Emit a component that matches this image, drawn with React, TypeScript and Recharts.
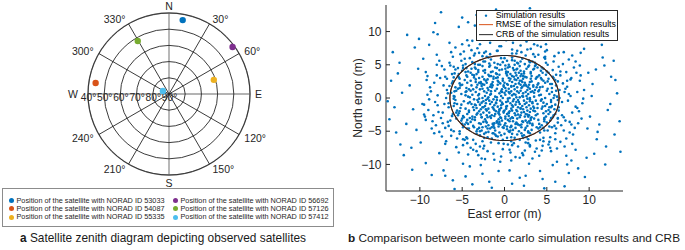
import React from 'react';
import {
  RadarChart, Radar, PolarGrid, PolarAngleAxis, PolarRadiusAxis, Legend,
  ScatterChart, Scatter, XAxis, YAxis,
} from 'recharts';

const FONT = '"Liberation Sans", Arial, Helvetica, sans-serif';
const INK = '#262626';

// ---------- Panel a: satellite sky plot ----------
const SAT_IDS = ['53033', '54087', '55335', '56692', '57126', '57412'];
const SAT_AZIMUTH = [10.5, 278.5, 72.5, 53.5, 329.5, 296];
const SAT_ELEVATION = [43.6, 44.2, 61, 41.2, 52, 85.8];
const SAT_COLORS = ['#0072BD', '#D95319', '#EDB120', '#7E2F8E', '#77AC30', '#4DBEEE'];

const AZ_TICKS = [0, 30, 60, 90, 120, 150, 180, 210, 240, 270, 300, 330];
const AZ_CARDINAL: Record<number, string> = { 0: 'N', 90: 'E', 180: 'S', 270: 'W' };
const ELEV_TICKS = [40, 50, 60, 70, 80, 90];

// ---------- Panel b: Monte Carlo simulation (east, north pairs in m) ----------
const SIM_EAST_NORTH: number[] = [
  0.3,-1.2, -2.1,0.8, 1.7,2.2, -0.6,-2.5, 2.4,-0.9, -1.4,1.9, 0.9,0.4, -2.7,-0.7, 1.2,-2.3, -0.2,2.6,
  2.8,0.6, -1.9,-1.6, 0.5,1.4, -0.9,-0.3, 1.9,1.1, -2.4,2.0, 0.1,-2.8, 2.2,-1.7, -1.1,0.2, 0.7,2.9,
  -3.1,0.4, 3.0,-0.2, -0.4,-1.5, 1.4,0.1, -1.7,-2.8, 2.6,1.8, -0.8,3.1, 0.2,-0.6, -2.9,1.3, 1.0,-3.0,
  3.3,1.0, -1.2,-1.1, 0.6,-2.0, -2.2,2.6, 2.0,2.6, -0.3,0.9, 1.6,-1.4, -3.3,-1.5, 0.8,1.8, -1.6,0.6,
  2.5,-2.4, -0.7,-3.2, 1.1,3.2, -2.5,-2.2, 3.4,-1.3, -0.1,1.7, 2.1,0.3, -1.3,2.9, 0.4,-3.3, -2.0,-0.1,
  1.5,1.6, -3.0,2.3, 0.0,-1.9, 2.9,2.0, -1.5,-0.6, 0.7,-0.8, -0.5,2.2, 1.8,-2.9, -2.6,0.0, 3.1,0.9,
  -1.0,-2.0, 0.9,2.4, -2.3,-1.2, 2.3,-0.4, -0.4,0.3, 1.3,-1.0, -1.8,3.3, 0.2,1.1, 2.7,-1.9, -3.4,0.9,
  0.6,0.0, -0.9,1.4, 1.9,-2.6, -2.1,-2.6, 3.2,2.5, -1.2,-1.8, 0.3,3.4, 2.0,1.5, -0.2,-0.9, -2.8,2.4,
  1.4,2.7, -1.6,-3.0, 2.6,-0.7, -0.6,0.7, 0.8,-1.6, -2.4,1.0, 1.7,0.8, -1.1,-2.4, 3.5,0.2, -0.3,-3.4,
  -1.9,1.2, 0.4,2.0, 2.4,2.3, -3.2,-0.3, 1.0,-0.5, -0.8,-1.3, 1.6,3.0, -2.2,-1.7, 0.1,0.5, 2.8,-2.8,
  -0.5,-0.4, 1.2,1.3, -1.4,2.4, 2.1,-1.2, -2.7,1.8, 0.5,-2.7, -0.1,1.9, 3.0,1.4, -1.7,-0.9, 0.9,-1.9,
  1.8,0.1, -2.3,0.3, 0.2,-1.3, -1.0,3.0, 2.5,0.9, -0.7,-2.1, 1.5,-3.1, -3.0,-2.0, 0.6,2.6, -1.3,-0.2,
  2.9,-1.1, -0.4,1.0, 1.1,-0.2, -2.0,2.8, 0.3,-2.4, -1.5,1.6, 2.2,2.9, -2.9,-1.0, 1.4,-1.8, -0.8,2.0,
  0.0,0.8, 1.7,-0.6, -1.2,-2.7, 2.7,1.2, -2.5,-0.5, 0.8,1.0, -0.6,-1.7, 1.3,2.1, -3.3,1.6, 2.0,-2.2,
  -0.9,0.1, 0.4,-0.1, 1.9,2.0, -1.8,-2.2, 3.3,-0.6, -0.2,2.9, 0.7,-3.1, -2.6,2.1, 1.1,0.6, -1.4,-1.4,
  2.3,1.9, -2.2,-0.8, 0.1,1.5, 1.6,-2.5, -0.5,-2.9, 2.6,0.3, -1.1,1.1, 0.9,3.3, -2.8,-2.5, 3.1,-1.6,
  -0.3,-0.7, 1.0,-1.3, -1.7,0.5, 2.1,2.4, -2.4,2.8, 0.6,0.7, -0.7,-2.3, 1.5,1.0, -3.1,-0.6, 0.2,-1.6,
  1.3,-2.6, -1.9,0.1, 2.8,1.6, -0.8,2.6, 0.4,-0.5, -2.1,-1.9, 1.8,-0.9, -0.1,-2.2, 2.4,-2.8, -1.3,3.2,
  0.8,1.7, -2.6,-1.4, 3.0,-2.1, -0.4,-1.1, 1.2,2.8, -1.5,-2.6, 0.0,2.3, 2.7,-0.1, -2.0,1.5, 0.5,-2.2,
  -1.6,2.0, 1.9,-1.6, -0.2,0.0, 2.2,0.7, -2.7,-2.9, 0.9,-2.9, -1.0,-0.7, 1.4,3.4, -3.4,-1.1, 3.4,1.7,
  0.5,0.9, -1.0,-0.8, 1.6,-0.3, -0.3,1.3, 2.1,1.7, -1.8,-0.4, 0.9,-1.1, -2.6,1.4, 1.3,0.5, -0.6,-1.9,
  1.4,-0.6, -1.6,1.0, 0.5,-2.3, -0.7,2.4, 2.6,-1.4, -2.8,-1.7, 1.8,2.6, -2.0,-2.9, 3.1,2.9, -3.4,2.8,
  2.2,0.2, -2.2,-0.3, 0.3,2.1, -0.1,-2.0, 1.5,-2.0, -1.5,2.1, 2.3,-2.1, -2.1,2.3, 3.0,-0.5, -3.0,0.6,
  1.1,1.8, -1.3,-1.6, 1.9,-1.5, -1.7,1.7, 2.5,2.0, -2.5,-1.4, 0.1,-3.1, 3.1,-3.0, -3.2,-2.3, 2.2,3.3,
  4.1,1.2, -4.3,-0.8, 1.5,4.4, -2.0,-4.6, 5.2,-1.8, -3.6,3.4, 0.6,-5.1, 3.8,3.1, -5.5,1.4, 2.7,-4.2,
  -1.2,5.3, 4.7,-3.0, -4.9,-2.7, 0.2,4.0, 5.9,0.4, -2.8,-3.9, 3.2,-2.9, -5.8,-0.3, 1.9,5.5, -3.9,1.9,
  4.4,2.8, -0.7,-4.3, 2.3,-5.6, -4.6,3.9, 6.0,-1.0, -1.8,4.7, 4.0,-4.6, -3.3,-5.0, 0.9,6.1, -6.2,2.2,
  2.9,4.9, -5.1,0.6, 5.4,2.1, -2.4,-5.4, 0.3,-4.7, 3.5,0.8, -4.0,-3.6, 1.2,-6.0, -0.9,4.5, 5.0,-3.7,
  -3.1,5.0, 4.8,0.0, -5.6,-1.9, 2.0,3.6, -1.5,-6.1, 3.9,-1.5, -4.4,2.3, 0.5,5.0, 5.7,3.2, -2.6,-4.4,
  1.6,-4.0, -3.7,-1.4, 4.3,4.1, -0.4,-5.6, 6.1,1.9, -5.0,4.1, 2.5,-3.4, -3.0,3.0, 0.1,-3.8, 3.6,5.3,
  -4.7,-4.0, 5.5,-0.6, -1.0,3.7, 2.8,-5.0, -6.0,-1.2, 3.0,2.4, -2.2,-3.5, 4.6,-2.3, -3.5,4.6, 1.1,4.2,
  -5.3,2.9, 0.7,-4.4, 4.9,3.5, -1.6,5.8, 3.3,-3.9, -4.2,-2.1, 5.8,-2.6, -0.2,-6.3, 2.1,5.9, -5.9,0.2,
  3.7,-0.4, -2.9,-5.6, 1.8,4.8, -4.5,1.0, 5.1,1.4, -0.6,-3.6, 4.2,-5.2, -3.8,5.4, 0.4,3.9, 6.3,-0.3,
  -2.5,4.1, 2.4,-4.8, -5.7,-3.1, 3.1,3.9, -1.1,-4.9, 5.3,-4.3, -4.1,0.1, 1.4,-3.7, -2.1,6.2, 4.5,1.7,
  0.0,-5.4, -3.4,2.4, 5.6,0.9, -1.4,-3.9, 2.6,4.4, -6.1,-2.4, 3.4,-1.9, -0.8,5.1, 4.0,-3.3, -4.8,-0.5,
  1.7,3.8, -3.2,-4.7, 4.6,2.6, -5.4,3.6, 0.8,-5.9, 3.9,4.6, -2.7,-2.9, 5.9,-1.7, -1.9,3.5, 2.2,-3.6,
  -4.4,-3.3, 3.0,5.4, -0.3,4.3, 5.0,-0.9, -3.7,-4.2, 1.3,-4.5, -5.2,1.9, 4.1,3.4, -1.3,-5.3, 6.0,2.7,
  -2.3,-3.2, 2.9,-2.6, -4.9,4.5, 0.6,4.7, 4.7,-4.9, -6.3,0.8, 3.6,1.2, -0.5,-4.0, 2.0,-5.3, -3.6,3.1,
  5.2,3.8, -1.7,4.9, 3.3,-4.1, -4.6,-1.6, 0.9,5.7, -2.0,-5.9, 4.4,-0.2, -5.5,-2.6, 1.9,3.3, -3.0,-3.8,
  2.4,3.2, -4.0,2.6, 4.9,-2.0, -0.1,-4.5, 3.7,5.0, -5.0,-3.9, 1.0,-3.5, -2.6,4.8, 5.6,1.5, -1.0,-5.7,
  3.5,-3.1, -3.3,-2.5, 0.3,5.6, 4.3,0.5, -5.8,1.6, 2.6,-5.9, -1.6,3.3, 5.4,-3.4, -4.3,4.0, 0.8,-4.2,
  -0.6,3.5, 3.9,2.0, -2.4,-6.0, 5.7,-2.9, -4.7,2.7, 1.6,5.2, -3.9,-0.9, 2.7,-3.7, -1.2,-3.8, 4.6,4.4,
  -5.6,-0.9, 0.5,-5.0, 3.1,3.7, -3.1,4.2, 4.8,-1.2, -2.2,-4.3, 1.5,-5.5, -4.9,-4.4, 6.2,0.2, -0.4,6.0,
  2.0,-4.4, -3.8,-2.8, 4.1,-3.9, -1.8,5.2, 3.4,4.3, -5.3,-2.0, 0.2,3.7, 5.1,2.5, -2.7,-4.9, 1.2,5.0,
  4.5,-1.3, -4.4,3.2, 1.0,-4.8, -6.0,-0.1, 2.3,4.0, -0.9,-3.5, 5.3,0.6, -3.5,5.1, 3.0,-5.3, -1.4,4.0,
  -2.9,-5.0, 3.8,1.6, -5.1,-3.4, 0.7,3.6, 5.8,3.0, -1.7,-4.6, 2.5,-4.5, -4.2,1.3, 4.2,-4.4, -0.2,5.4,
  1.3,-3.9, -3.4,4.4, 5.5,-1.4, -4.8,-2.9, 2.8,4.7, -0.6,-5.2, 3.9,-2.4, -5.9,1.0, 0.4,4.6, 4.7,-3.2,
  -1.3,-4.2, 4.3,3.0, -3.0,-4.5, 1.7,-5.0, -5.4,3.1, 3.3,-0.8, -2.5,5.5, 5.0,4.0, -4.1,-3.0, 0.0,-4.1,
  3.6,4.8, -4.6,0.4, 2.1,-3.5, -1.1,4.6, 4.9,-2.8, -3.5,-3.3, 0.9,-5.4, -2.3,3.8, 5.5,-0.3, -5.2,-1.5,
  -0.8,-5.8, 2.6,3.1, -4.0,3.8, 4.4,-4.1, -2.1,-3.7, 1.4,4.3, -5.7,-2.2, 3.2,-4.8, -3.2,2.0, 6.1,1.1,
  0.1,4.9, -4.5,-3.7, 4.0,1.0, -1.5,-4.4, 2.2,-6.0, -3.8,3.5, 5.2,-2.4, -0.7,-3.9, 3.7,2.9, -5.0,2.0,
  -2.6,3.2, 3.1,-3.3, -4.2,-4.6, 1.8,-4.1, -5.9,-0.8, 4.8,2.3, -1.9,-5.1, 2.9,5.6, -3.6,-1.8, 0.3,-4.3,
  3.6,-2.0, -3.8,0.5, 0.2,3.8, -0.9,-3.7, 4.0,2.2, -4.2,-1.9, 2.0,-4.0, -2.3,4.2, 4.6,-0.7, -4.5,1.5,
  1.0,4.5, -1.2,-4.5, 3.2,3.3, -3.5,-2.9, 2.9,-3.5, -3.3,3.6, 5.0,1.1, -5.1,-1.0, 0.7,-4.9, -0.5,5.0,
  5.4,-2.1, -5.3,2.2, 2.4,5.1, -2.2,-5.2, 4.5,3.8, -4.3,-3.9, 3.8,-4.4, -3.9,4.4, 5.8,0.0, -6.0,0.3,
  0.0,6.0, 0.3,-6.0, 6.3,2.5, -6.2,-2.7, 2.8,-6.2, -2.6,6.3, 5.1,-4.9, -4.9,4.9, 4.9,5.3, -5.3,-5.0,
  3.9,-0.9, -4.0,1.1, 1.5,-3.9, -1.6,3.9, 4.2,1.6, -4.4,-2.4, 2.3,3.7, -2.5,-3.6, 3.7,-2.6, -3.6,-0.2,
  0.6,-3.5, -0.9,3.6, 2.7,-2.5, -2.8,2.2, 4.4,-1.6, -4.6,0.9, 1.9,4.1, -1.9,-4.1, 3.4,1.9, -3.5,-1.0,
  5.6,-1.2, -5.7,1.1, 1.2,5.6, -1.1,-5.5, 4.7,-3.5, -4.5,3.4, 3.5,4.4, -3.6,-4.4, 6.4,-1.4, -6.5,1.8,
  0.8,-6.5, -1.7,6.6, 6.6,3.4, -6.7,-3.6, 3.7,-6.4, -3.5,6.7, 5.9,-4.2, -5.8,4.3, 4.8,5.9, -4.4,-6.1,
  0.5,3.0, -0.4,-3.0, 3.9,3.2, -3.8,-3.2, 3.0,-3.8, -3.1,3.9, 4.3,-0.4, -4.3,0.2, 0.1,4.4, -0.2,-4.4,
  5.2,2.9, -5.0,-3.1, 2.8,-5.2, -2.9,5.0, 5.5,-3.0, -5.5,3.3, 3.3,5.5, -3.3,-5.4, 6.0,-2.4, -6.1,2.5,
  1.8,-6.3, -1.9,6.1, 6.5,1.2, -6.6,-0.8, 0.9,6.7, -0.7,-6.8, 6.8,-0.6, -6.9,0.0, 2.5,6.4, -2.6,-6.5,
  4.1,0.4, -4.1,-0.6, 0.8,-4.3, -0.6,4.2, 3.0,0.0, -3.0,-0.1, 1.3,3.8, -1.3,-3.9, 3.5,-1.5, -3.7,1.3,
  5.6,2.1, -5.4,-2.3, 2.1,-5.7, -2.3,5.5, 5.3,-1.4, -5.3,1.5, 1.5,5.3, -1.4,-5.3, 4.4,4.6, -4.4,-4.6,
  4.6,-4.5, -4.5,4.5, 6.3,-3.7, -6.2,3.6, 3.6,6.2, -3.7,-6.3, 7.1,0.9, -7.1,-0.9, 0.9,-7.1, -0.9,7.1,
  7.4,2.6, -7.3,-2.2, 2.7,7.3, -2.4,-7.2, 7.0,-2.9, -7.0,3.2, 3.0,-7.1, -3.2,7.5, 6.4,4.7, -6.3,-4.8,
  4.6,-6.0, -4.7,5.9, 6.1,-4.6, -6.0,4.7, 4.8,6.2, -4.9,-6.2, 7.8,0.3, -7.9,0.4, 0.6,-7.8, -0.4,7.8,
  7.2,1.4, -6.8,2.9, 3.1,7.4, -2.5,-7.6, 8.0,-2.2, -7.5,-3.0, 1.0,8.3, 5.4,-5.9, -5.1,5.6, 6.6,4.0,
  -8.2,-0.6, 2.4,-7.9, -3.9,7.2, 7.7,-3.6, -6.0,-5.0, 4.7,6.1, -1.3,-8.4, 8.6,0.9, -7.1,4.3, 0.4,-7.0,
  6.0,-6.2, -4.4,-6.8, 7.9,3.0, -8.8,1.6, 2.0,6.9, -5.6,-6.1, 5.8,5.5, -0.6,7.8, 7.0,-4.9, -7.8,-2.1,
  3.6,-8.1, -6.4,4.9, 8.4,-1.3, -2.9,8.1, 5.2,-7.0, -8.5,-3.5, 1.6,-7.3, 6.9,2.2, -4.8,7.0, 0.9,7.3,
  -7.0,-4.5, 4.3,7.7, -9.1,0.5, 6.3,-3.1, -3.3,-8.0, 8.9,2.6, -5.9,3.7, 2.8,-6.8, -1.9,8.9, 7.5,-0.4,
  -6.6,-1.4, 5.1,5.0, -4.0,-7.5, 8.2,4.6, -8.0,3.4, 1.3,-8.9, 6.4,6.8, -2.2,7.0, 7.3,-6.1, -9.0,-1.8,
  2.6,8.5, -5.3,-5.4, 8.7,-3.8, -7.2,1.9, 4.6,-6.5, -3.6,6.4, 6.1,3.5, -0.2,-7.7, 7.6,5.8, -8.6,-4.6,
  0.2,8.7, -6.9,-6.5, 9.2,-0.8, -4.6,5.1, 3.8,-7.6, -7.7,5.6, 5.6,-4.4, -1.6,-6.7, 6.8,-2.6, -5.8,7.6,
  4.0,6.5, -8.3,2.3, 7.1,-7.3, -2.7,-9.1, 8.5,3.8, -6.2,-2.7, 1.9,7.9, -4.3,-8.5, 6.5,0.0, -9.3,3.9,
  5.5,-8.0, -3.0,6.8, 8.0,6.4, -7.4,-5.8, 0.7,-8.2, -5.0,8.1, 7.4,1.7, -6.1,6.2, 3.3,-9.1, -8.9,-0.2,
  6.7,-4.1, -1.0,9.3, 9.4,1.2, -7.9,-1.1, 2.2,-8.6, -4.9,-7.1, 4.9,8.1, -6.7,0.7, 8.1,-5.5, -2.0,-8.0,
  1.1,-6.8, -8.0,5.0, 7.8,2.8, -3.4,-6.9, 5.9,6.3, -9.4,-2.8, 3.0,-7.3, -5.5,4.5, 6.2,-7.6, -0.8,7.1,
  -7.3,-3.8, 4.4,-7.9, -2.4,6.8, 8.8,-2.0, -6.5,5.3, 0.5,9.0, 7.2,-3.4, -4.7,-6.3, 5.0,7.2, -8.7,1.0,
  3.9,7.9, -5.7,-7.4, 9.0,3.4, -1.2,-9.3, 6.9,5.1, -7.6,3.0, 2.5,-6.7, -3.8,8.6, 8.3,-4.5, -6.3,-5.7,
  -9.5,-1.0, 5.3,-6.6, -2.9,-7.3, 7.0,6.9, -4.2,7.9, 1.5,7.1, -7.0,-6.9, 8.6,-1.5, -0.4,-8.8, 4.1,-8.7,
  -5.2,6.6, 7.6,0.6, -8.1,-4.1, 2.9,8.9, 6.0,-5.3, -3.1,-8.6, 9.1,-3.1, -6.8,1.2, 1.8,-9.0, -2.5,9.2,
  5.7,4.2, -8.4,-2.6, 4.5,-7.2, -0.1,-6.9, 7.9,-4.0, -4.1,6.0, 3.4,6.6, -7.7,-5.1, 6.6,-6.6, -6.0,3.1,
  0.8,-9.4, -3.7,-7.8, 8.4,5.5, -9.2,2.7, 4.8,7.0, -1.7,8.3, 6.3,-3.0, -5.4,-8.2, 9.3,-0.1, -6.4,-3.4,
  2.1,-8.3, -6.3,6.9, 7.3,3.9, -4.5,-5.9, 5.4,-7.5, -8.3,-5.3, 1.4,6.7, -2.3,-9.2, 8.9,4.9, -7.4,4.8,
  6.4,-1.9, -0.5,-9.6, 3.5,8.1, -9.3,-3.3, 7.7,-5.2, -4.4,8.7, 4.2,-6.3, -6.6,-4.2, 0.0,9.4, 8.0,-6.9,
  10.4,2.1, -10.8,-1.7, 3.4,10.6, -4.1,-10.3, 11.2,-4.0, -9.6,5.9, 7.3,-8.7, -7.7,-8.3, 1.2,11.5, -12.1,0.8,
  9.0,6.8, -2.6,-11.4, 12.5,-0.9, -10.2,4.4, 5.7,-10.1, -8.9,8.0, 10.9,-6.2, -11.6,-3.9, 0.6,-10.9, 6.9,9.8,
  -5.4,10.7, 13.1,2.7, -12.8,-5.2, 4.5,-12.2, -3.3,12.5, 9.7,-9.0, -7.2,-10.9, 11.8,4.9, -9.9,-6.7, 2.3,-13.2,
  -13.4,2.6, 8.2,10.1, -1.0,13.3, 10.1,-2.8, -6.1,-12.4, 12.0,-7.3, -10.6,7.6, 5.0,11.9, -4.6,-11.8, 13.6,-3.5,
  7.6,-11.3, -11.9,-8.6, 2.9,-9.9, -8.2,11.3, 11.5,8.0, -13.0,-1.4, 6.2,-9.6, -2.1,10.2, 10.3,0.3, -9.3,-9.8,
  0.0,12.7, 12.9,5.6, -7.9,9.6, 4.2,-11.0, -10.4,-4.8, 8.7,-10.6, -3.8,-13.0, 9.4,7.4, -12.4,5.3, 1.8,-12.0,
  -6.8,-9.3, 11.0,-5.1, -1.8,-12.6, 6.5,12.4, -11.2,1.9, 13.3,0.7, -5.0,12.1, 10.6,-8.4, -8.6,-11.6, 3.0,13.5,
  -10.1,8.9, 7.1,-13.3, -13.6,-3.2, 9.9,3.8, -4.9,-9.9, 12.2,-1.8, -8.0,6.5, 2.5,-11.7, -9.7,-0.9, 5.9,10.4,
  8.4,-7.8, -12.6,3.7, 1.4,10.0, -7.0,-11.7, 11.6,6.1, -3.5,10.9, 10.0,9.3, -11.0,-7.5, 4.7,-13.6, -6.5,8.3,
  13.0,-5.5, -9.5,-2.5, 3.8,12.8, -2.8,-10.1, 9.5,-11.9, -13.2,6.9, 7.9,-9.4, -5.9,-13.7, 12.6,3.2, -8.4,9.9,
  -0.7,-11.0, 10.8,4.3, -11.5,9.5, 6.0,-12.6, -13.8,-0.5, 8.9,12.0, -4.3,11.4, 11.9,-10.0, -10.9,-10.8, 2.0,10.8,
  9.8,-4.6, -7.5,12.9, 12.3,9.4, -12.3,-7.0, 5.3,12.9, -1.5,-13.5, 13.7,-8.1, -9.1,3.3, 0.9,-12.9, 7.4,-10.0,
];

const AXIS_LIMIT = 14;
const ERROR_TICKS = [-10, -5, 0, 5, 10];
const CRB_SEMI_AXES = [6.45, 6.4]; // east, north (m)
const RMSE_SEMI_AXES = [6.45, 6.4];
const ELLIPSE_STEPS = 120;

const SIM_LABELS = ['Simulation results', 'RMSE of the simulation results', 'CRB of the simulation results'];
const SIM_COLOR = '#0072BD';
const RMSE_COLOR = '#D95319';
const CRB_COLOR = '#262626';

const CAPTION_A = ['a', ' Satellite zenith diagram depicting observed satellites'];
const CAPTION_B = ['b', ' Comparison between monte carlo simulation results and CRB'];

// ---------- derived tables ----------
const satData = SAT_IDS.map((id, i) => ({
  id, az: SAT_AZIMUTH[i], zen: 90 - SAT_ELEVATION[i], color: SAT_COLORS[i],
}));
const toPolarAngle = (az: number) => 90 - az;
const cardinalAngles = AZ_TICKS.filter((a) => a % 90 === 0).map(toPolarAngle);
const diagonalAngles = AZ_TICKS.filter((a) => a % 90 !== 0).map(toPolarAngle);
const zenithTicks = ELEV_TICKS.map((e) => 90 - e);

const simData: { x: number; y: number }[] = [];
for (let i = 0; i < SIM_EAST_NORTH.length; i += 2) {
  simData.push({ x: SIM_EAST_NORTH[i], y: SIM_EAST_NORTH[i + 1] });
}
const ellipseData = ([a, b]: number[]) =>
  Array.from({ length: ELLIPSE_STEPS + 1 }, (_, k) => {
    const t = (2 * Math.PI * k) / ELLIPSE_STEPS;
    return { x: a * Math.cos(t), y: b * Math.sin(t) };
  });
const crbData = ellipseData(CRB_SEMI_AXES);
const rmseData = ellipseData(RMSE_SEMI_AXES);

const fmtSigned = (v: number) => (v < 0 ? `\u2212${Math.abs(v)}` : `${v}`);

// ---------- pieces ----------
function AngleTick(props: any) {
  const { x, y, payload } = props;
  const az = Number(payload.value);
  const s = Math.sin((az * Math.PI) / 180);
  const anchor = Math.abs(s) < 0.01 ? 'middle' : s > 0 ? 'start' : 'end';
  const label = AZ_CARDINAL[az] ?? `${az}°`;
  const dx = az === 270 ? -4 : az === 90 ? -1 : 0;
  const dy = az === 0 ? -1.5 : az === 180 ? 1.5 : 0;
  return (
    <text x={x + dx} y={y + dy} textAnchor={anchor} dominantBaseline="central"
      fontSize={10.5} fill={INK} fontFamily={FONT}>{label}</text>
  );
}

function RadiusTick(props: any) {
  const { x, y, payload } = props;
  return (
    <text x={x + 0.5} y={y + 3} textAnchor="middle" dominantBaseline="central"
      fontSize={10.2} fill={INK} fontFamily={FONT}>{`${90 - Number(payload.value)}°`}</text>
  );
}

function SatDot(props: any) {
  const { cx, cy, index } = props;
  return <circle key={`sat-${index}`} cx={cx} cy={cy} r={3.2} fill={SAT_COLORS[index]} />;
}

function SatLegend() {
  return (
    <div style={{
      boxSizing: 'border-box', width: '100%', height: '100%', border: '1px solid #8c8c8c',
      background: '#fff', display: 'grid', gridTemplateColumns: '164px 160px',
      gridTemplateRows: 'repeat(3, 8.3px)', gridAutoFlow: 'column', padding: '7.5px 0 0 6px',
      fontSize: 7.3, lineHeight: '8.3px', fontFamily: FONT, color: INK,
    }}>
      {SAT_IDS.map((id, i) => (
        <div key={id} style={{ display: 'flex', alignItems: 'center', whiteSpace: 'nowrap' }}>
          <span style={{
            width: 5, height: 5, borderRadius: '50%', background: SAT_COLORS[i],
            marginRight: 2.5, flex: 'none',
          }} />
          {`Position of the satellite with NORAD ID ${id}`}
        </div>
      ))}
    </div>
  );
}

function SimDot(props: any) {
  const { cx, cy } = props;
  return <circle cx={cx} cy={cy} r={1.3} fill={SIM_COLOR} />;
}
const NoDot = () => <g />;

function SimLegend() {
  const sample = (i: number) => {
    if (i === 0) return <circle cx={7} cy={4.65} r={1.2} fill={SIM_COLOR} />;
    return <line x1={0} x2={14} y1={4.65} y2={4.65} stroke={i === 1 ? RMSE_COLOR : CRB_COLOR} strokeWidth={1} />;
  };
  return (
    <div style={{
      boxSizing: 'border-box', width: 142, height: 31, border: `1px solid ${INK}`, background: '#fff',
      padding: '0.6px 0 0 2px', fontSize: 8.8, lineHeight: '9.3px', fontFamily: FONT, color: '#000',
    }}>
      {SIM_LABELS.map((label, i) => (
        <div key={label} style={{ display: 'flex', alignItems: 'center', height: 9.3, whiteSpace: 'nowrap' }}>
          <svg width={16.7} height={9.3} style={{ flex: 'none' }}>{sample(i)}</svg>
          <span>{label}</span>
        </div>
      ))}
    </div>
  );
}

function Caption({ parts, x, width, size }: { parts: string[]; x: number; width: number; size: number }) {
  return (
    <text x={x} y={241.5} textLength={width} lengthAdjust="spacingAndGlyphs"
      fontSize={size} fontFamily={FONT} fill="#1a1a1a">
      <tspan fontWeight="bold">{parts[0]}</tspan>
      <tspan>{parts[1]}</tspan>
    </text>
  );
}

const tickStyle = { fontSize: 12, fill: INK, fontFamily: FONT };

export default function App() {
  return (
    <div style={{ position: 'absolute', left: 0, top: 0, width: 685, height: 250, background: '#fff', overflow: 'hidden', fontFamily: FONT }}>
      <div style={{ position: 'absolute', left: 0, top: 0 }}>
        <RadarChart width={340} height={232} data={satData} cx={169} cy={94} outerRadius={81}
          startAngle={90} endAngle={-270} margin={{ top: 0, right: 0, bottom: 0, left: 0 }}>
          <PolarGrid gridType="circle" polarAngles={cardinalAngles} polarRadius={[81]}
            stroke="#9a9a9a" strokeWidth={1.4} />
          <PolarGrid gridType="circle" polarAngles={diagonalAngles} stroke={INK} strokeWidth={0.9} />
          <PolarAngleAxis dataKey="az" type="number" domain={[0, 360]} ticks={AZ_TICKS}
            tick={AngleTick} tickLine={false} axisLine={false} tickSize={6} />
          <PolarRadiusAxis type="number" domain={[0, 50]} ticks={zenithTicks} angle={180}
            tick={RadiusTick} axisLine={false} tickLine={false} />
          <Radar dataKey="zen" fill="none" stroke="none" fillOpacity={0} dot={SatDot}
            isAnimationActive={false} />
          <Legend layout="vertical" align="center" verticalAlign="middle"
            wrapperStyle={{ left: 2, top: 188, width: 332, height: 39 }} content={() => <SatLegend />} />
        </RadarChart>
      </div>

      <div style={{ position: 'absolute', left: 330, top: 0 }}>
        <ScatterChart width={355} height={250} margin={{ top: 5, right: 62, bottom: 42, left: 0 }}>
          <XAxis xAxisId="b" dataKey="x" type="number" domain={[-AXIS_LIMIT, AXIS_LIMIT]} ticks={ERROR_TICKS}
            tickFormatter={fmtSigned} tick={tickStyle} tickSize={-4} tickMargin={8} height={17}
            stroke={INK} allowDataOverflow
            label={{ value: 'East error (m)', position: 'bottom', offset: 1.5, style: { fontSize: 12, fill: INK, fontFamily: FONT } }} />
          <XAxis xAxisId="t" orientation="top" dataKey="x" type="number" domain={[-AXIS_LIMIT, AXIS_LIMIT]}
            ticks={ERROR_TICKS} tick={false} tickSize={-4} height={0} stroke={INK} allowDataOverflow />
          <YAxis yAxisId="l" dataKey="y" type="number" domain={[-AXIS_LIMIT, AXIS_LIMIT]} ticks={ERROR_TICKS}
            tickFormatter={fmtSigned} tick={tickStyle} tickSize={-4} tickMargin={8.5} width={56}
            stroke={INK} allowDataOverflow
            label={{ value: 'North error (m)', angle: -90, position: 'center', style: { fontSize: 12, fill: INK, fontFamily: FONT, textAnchor: 'middle' } }} />
          <YAxis yAxisId="r" orientation="right" dataKey="y" type="number" domain={[-AXIS_LIMIT, AXIS_LIMIT]}
            ticks={ERROR_TICKS} tick={false} tickSize={-4} width={0} stroke={INK} allowDataOverflow />
          <Scatter xAxisId="b" yAxisId="l" data={simData} shape={SimDot} isAnimationActive={false} />
          <Scatter xAxisId="b" yAxisId="l" data={rmseData} shape={NoDot} line={{ stroke: RMSE_COLOR, strokeWidth: 1.1 }}
            isAnimationActive={false} />
          <Scatter xAxisId="b" yAxisId="l" data={crbData} shape={NoDot} line={{ stroke: CRB_COLOR, strokeWidth: 1.1 }}
            isAnimationActive={false} />
          <Legend layout="vertical" align="center" verticalAlign="middle"
            wrapperStyle={{ left: 146, top: 9.5, width: 142, height: 31 }} content={() => <SimLegend />} />
        </ScatterChart>
      </div>

      <svg width={685} height={250} style={{ position: 'absolute', left: 0, top: 0, pointerEvents: 'none' }}>
        <Caption parts={CAPTION_A} x={20} width={286} size={12.2} />
        <Caption parts={CAPTION_B} x={348} width={332} size={11.6} />
      </svg>
    </div>
  );
}
